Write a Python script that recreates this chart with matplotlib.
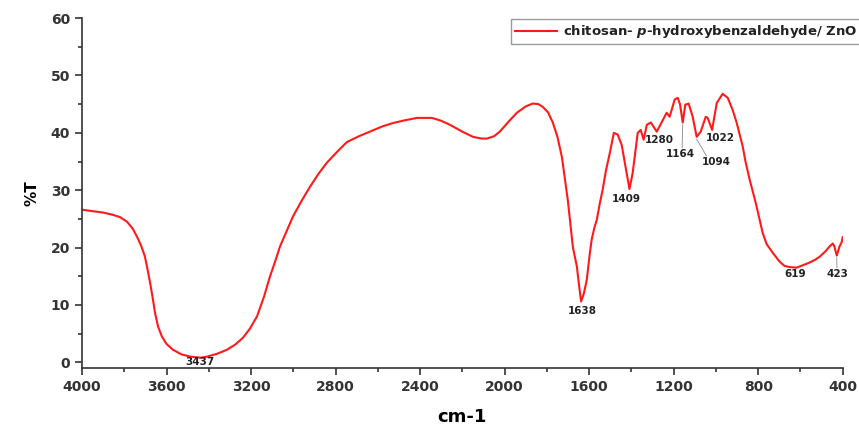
import numpy as np
import matplotlib
matplotlib.use('Agg')
import matplotlib.pyplot as plt
from matplotlib.ticker import MultipleLocator

# FTIR spectrum
wavenumber = [4000, 3900, 3853, 3820, 3787, 3760, 3740, 3720, 3702, 3690,
              3678, 3665, 3655, 3640, 3622, 3600, 3570, 3530, 3489, 3437,
              3409, 3360, 3314, 3275, 3238, 3205, 3172, 3140, 3111, 3085,
              3063, 3030, 3002, 2960, 2921, 2880, 2841, 2790, 2746, 2690,
              2638, 2580, 2529, 2470, 2415, 2344, 2300, 2259, 2200, 2150,
              2110, 2084, 2050, 2023, 1980, 1942, 1900, 1867, 1840, 1819,
              1795, 1772, 1750, 1729, 1701, 1677, 1658, 1648, 1638, 1625,
              1611, 1598, 1588, 1575, 1564, 1550, 1536, 1520, 1502, 1483,
              1465, 1446, 1431, 1409, 1394, 1370, 1356, 1342, 1327, 1308,
              1280, 1256, 1233, 1219, 1195, 1181, 1170, 1157, 1145, 1129,
              1110, 1091, 1072, 1048, 1039, 1018, 996, 968, 944, 921,
              902, 873, 860, 840, 820, 807, 790, 779, 760, 731,
              700, 675, 650, 619, 590, 556, 530, 509, 480, 462,
              447, 440, 428, 415, 405, 400]
transmittance = [26.6, 26.1, 25.7, 25.3, 24.5, 23.3, 21.9, 20.3, 18.4, 16.2,
                 13.9, 11.1, 8.7, 6.2, 4.5, 3.2, 2.2, 1.4, 1.0, 0.8,
                 1.0, 1.5, 2.2, 3.1, 4.3, 5.9, 8.0, 11.3, 14.9, 17.7,
                 20.2, 23.0, 25.4, 28.2, 30.6, 32.9, 34.8, 36.8, 38.4, 39.4,
                 40.2, 41.1, 41.7, 42.2, 42.6, 42.6, 42.1, 41.4, 40.2, 39.3,
                 39.0, 39.0, 39.4, 40.2, 42.0, 43.5, 44.6, 45.1, 45.0, 44.5,
                 43.6, 41.8, 39.3, 35.8, 28.3, 20.1, 16.7, 13.5, 10.6, 12.0,
                 14.4, 18.6, 21.4, 23.5, 24.8, 27.6, 30.1, 33.5, 36.5, 40.0,
                 39.7, 37.9, 34.8, 30.2, 33.0, 40.0, 40.5, 38.8, 41.4, 41.8,
                 40.2, 41.9, 43.5, 42.8, 45.8, 46.1, 45.0, 41.8, 44.9, 45.1,
                 42.8, 39.3, 40.2, 42.8, 42.6, 40.5, 45.2, 46.8, 46.1, 44.0,
                 41.8, 37.6, 35.0, 31.8, 29.0, 27.1, 24.4, 22.6, 20.6, 19.1,
                 17.6, 16.8, 16.6, 16.5, 16.9, 17.4, 17.9, 18.4, 19.4, 20.2,
                 20.7, 20.3, 18.6, 20.2, 20.9, 21.8]

peak_labels = ['3437', '1638', '1409', '1280', '1164', '1094', '1022', '619', '423']
peak_x = [3437, 1638, 1409, 1280, 1157, 1091, 1018, 619, 428]
peak_y = [0.8, 10.6, 30.2, 40.2, 41.8, 39.3, 40.5, 16.5, 18.6]
# label positions (data coords, top of text)
label_x = [3442, 1630, 1422, 1266, 1166, 996, 977, 627, 424]
label_y = [0.9, 9.9, 29.4, 39.7, 37.2, 35.7, 40.0, 16.3, 16.2]
leader_end = [None, None, None, None, (1160, 37.4), (1045, 36.0), None, None, (427, 16.5)]

fig = plt.figure(figsize=(8.59, 4.30), dpi=100)
ax = fig.add_axes([0.0955, 0.144, 0.8855, 0.814])

ax.plot(wavenumber, transmittance, color='#ff1a1a', lw=1.5,
        label='chitosan- $\\mathbfit{p}$-hydroxybenzaldehyde/ ZnO')

for lab, px, py, lx, ly, le in zip(peak_labels, peak_x, peak_y,
                                   label_x, label_y, leader_end):
    if le is not None:
        ax.plot([px, le[0]], [py - 0.4, le[1]], color='#888888', lw=0.6)
    ax.text(lx, ly, lab, ha='center', va='top', fontsize=7.5,
            fontweight='bold', color='#222222')

ax.set_xlim(4000, 400)
ax.set_ylim(-1, 60)
ax.xaxis.set_major_locator(MultipleLocator(400))
ax.xaxis.set_minor_locator(MultipleLocator(200))
ax.yaxis.set_major_locator(MultipleLocator(10))
ax.yaxis.set_minor_locator(MultipleLocator(5))
ax.tick_params(which='major', length=5, width=1.2, labelsize=10, colors='#333333')
ax.tick_params(which='minor', length=3, width=1.2, colors='#333333')
for t in ax.get_xticklabels() + ax.get_yticklabels():
    t.set_fontweight('bold')

for s in ['top', 'right']:
    ax.spines[s].set_visible(False)
for s in ['left', 'bottom']:
    ax.spines[s].set_color('#333333')
    ax.spines[s].set_linewidth(1.2)

ax.set_ylabel('%T', fontsize=11, fontweight='bold', labelpad=8)
ax.set_xlabel('cm-1', fontsize=13, fontweight='bold', labelpad=10)

leg = fig.legend(loc='upper right', bbox_to_anchor=(1.003, 0.955),
                 fontsize=9.5, fancybox=False, framealpha=1,
                 edgecolor='#999999', handlelength=3.2, borderpad=0.3,
                 handletextpad=0.5, borderaxespad=0)
for t in leg.get_texts():
    t.set_fontweight('bold')
    t.set_color('#222222')

fig.savefig('out.png', dpi=100)
